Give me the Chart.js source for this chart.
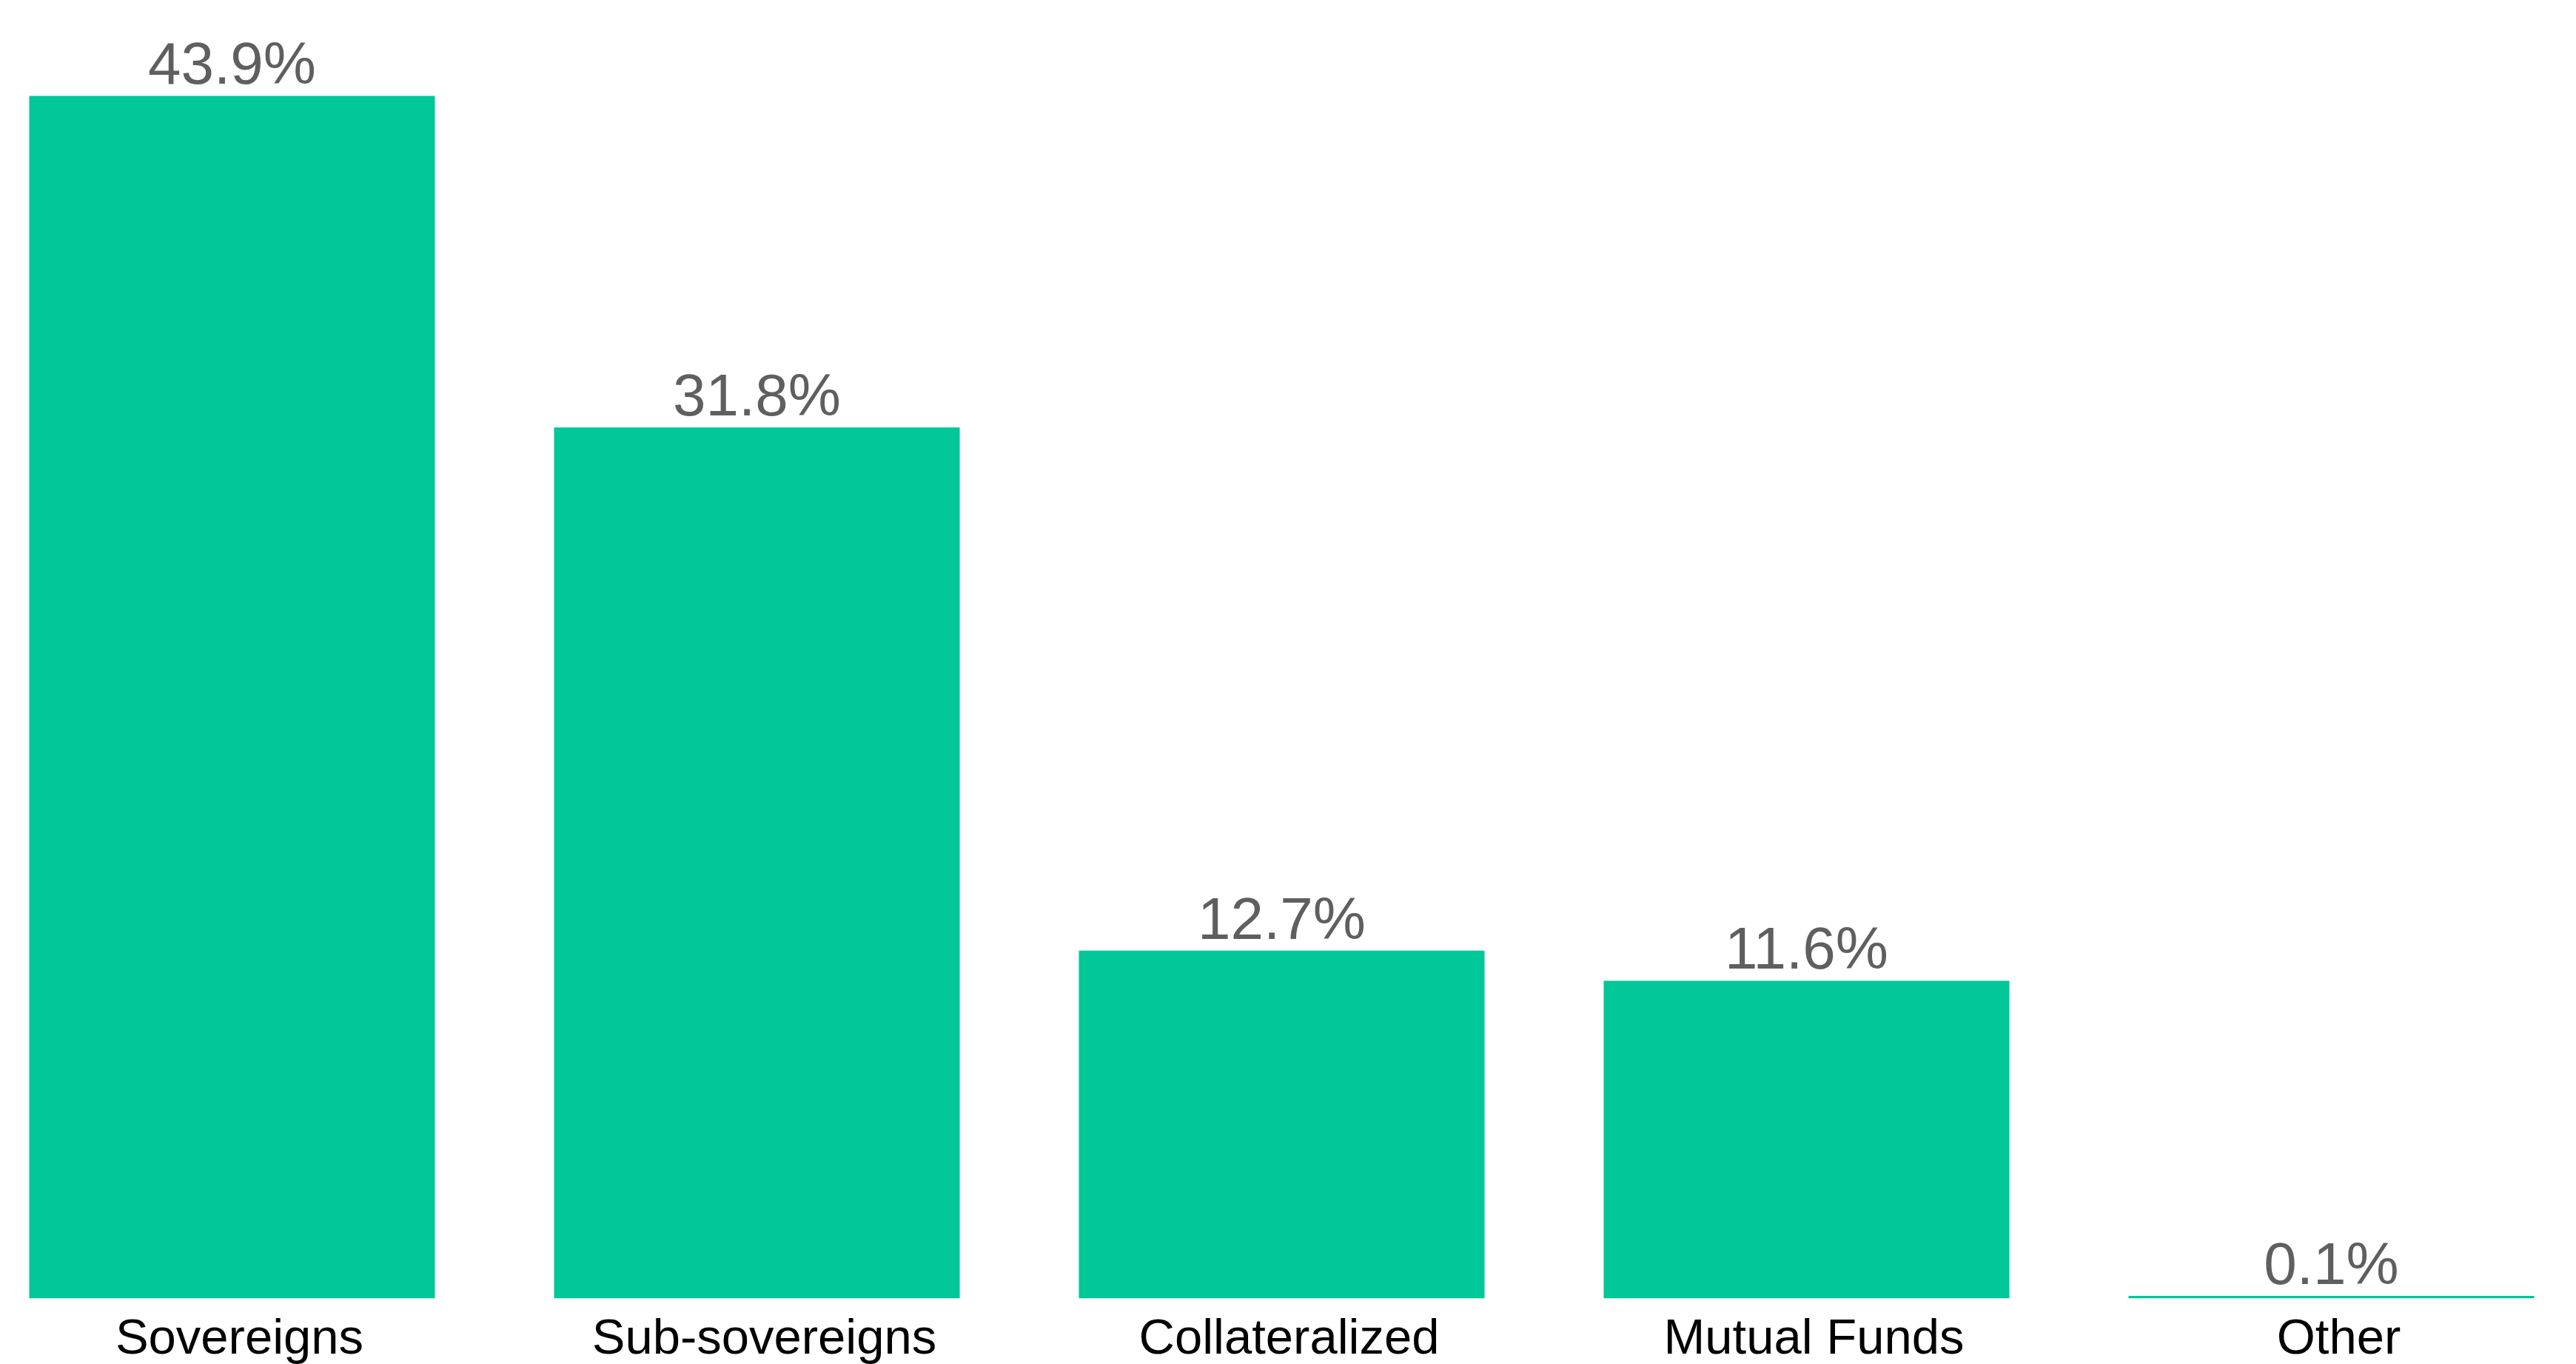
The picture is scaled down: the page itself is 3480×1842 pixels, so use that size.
<!DOCTYPE html>
<html>
<head>
<meta charset="utf-8">
<script src="https://cdn.jsdelivr.net/npm/chart.js@4.4.1/dist/chart.umd.min.js"></script>
<style>
  html, body { margin: 0; padding: 0; background: #fff; overflow: hidden; }
  body { width: 3480px; height: 1842px; position: relative; }
  /* the plot area in the original runs a little past both edges */
  #wrap { position: absolute; left: -41px; top: 0; width: 3545px; height: 1842px; }
</style>
</head>
<body>
<div id="wrap"><canvas id="chart" width="3545" height="1842"></canvas></div>
<script>
  // --- data ------------------------------------------------------------- //
  var categories = ["Sovereigns", "Sub-sovereigns", "Collateralized", "Mutual Funds", "Other"];
  var shares = [43.9, 31.8, 12.7, 11.6, 0.1];

  var COL = {
    bar: "#02C798",
    value: "#5F5F5F",
    label: "#000000",
  };
  var FONT = '"Liberation Sans", Arial, Helvetica, sans-serif';

  // value labels above each bar, placed from the bar elements themselves
  var valueLabels = {
    id: "valueLabels",
    afterDatasetsDraw: function (chart) {
      var ctx = chart.ctx;
      var meta = chart.getDatasetMeta(0);
      ctx.save();
      ctx.font = "80px " + FONT;
      ctx.fillStyle = COL.value;
      ctx.textAlign = "center";
      ctx.textBaseline = "alphabetic";
      meta.data.forEach(function (bar, i) {
        ctx.fillText(shares[i].toFixed(1) + "%", bar.x, bar.y - 16);
      });
      ctx.restore();
    },
  };

  new Chart(document.getElementById("chart").getContext("2d"), {
    type: "bar",
    data: {
      labels: categories,
      datasets: [{
        data: shares,
        backgroundColor: COL.bar,
        borderWidth: 0,
        categoryPercentage: 1,
        barPercentage: 0.773,
      }],
    },
    options: {
      responsive: false,
      animation: false,
      devicePixelRatio: 1,
      // category labels sit low, their descenders touch the bottom edge
      layout: { padding: { top: 0, left: 0, right: 0, bottom: -24 } },
      plugins: { legend: { display: false }, tooltip: { enabled: false } },
      scales: {
        x: {
          grid: { display: false, drawTicks: false },
          border: { display: false },
          ticks: {
            color: COL.label,
            font: { family: FONT, size: 67 },
            padding: 16,
            labelOffset: 10, // the source nudges category names slightly right of the bars
            maxRotation: 0,
            autoSkip: false,
          },
        },
        y: { display: false, min: 0, max: 47.4 },
      },
    },
    plugins: [valueLabels],
  });
</script>
</body>
</html>
